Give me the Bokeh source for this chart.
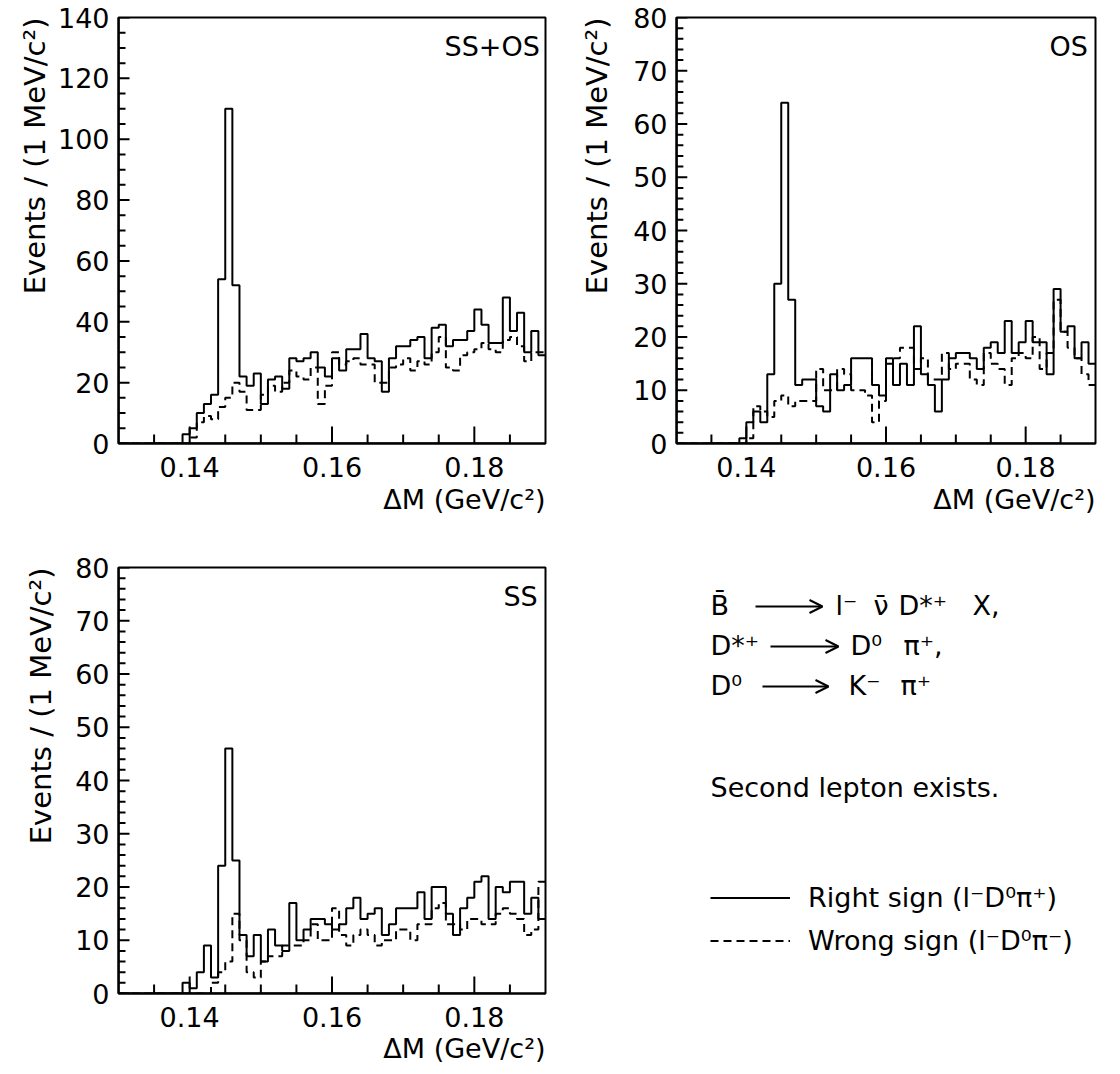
from bokeh.plotting import figure
from bokeh.models import (FixedTicker, Range1d, Title, Label, Legend, LegendItem,
                          PrintfTickFormatter, Arrow, OpenHead)
from bokeh.layouts import column, row
from bokeh.embed import file_html
from bokeh.resources import INLINE

FONT = "DejaVu Sans"
FS = "27px"

# bin edges of the Delta M histograms (GeV/c^2), 1 MeV bins
edges = [round(0.130 + 0.001 * i, 3) for i in range(61)]

# SS+OS
ssos_right = [0, 0, 0, 0, 0, 0, 0, 0, 0,
              3, 5, 10, 13, 16, 54, 110, 52, 22, 19, 23,
              13, 21, 22, 18, 28, 27, 28, 30, 25, 22,
              28, 24, 31, 31, 36, 28, 27, 17, 28, 32,
              32, 34, 35, 28, 38, 39, 32, 34, 34, 37,
              44, 39, 33, 33, 48, 37, 43, 30, 37, 29]
ssos_wrong = [0, 0, 0, 0, 0, 0, 0, 0, 0, 0,
              2, 7, 9, 8, 12, 15, 20, 17, 11, 11,
              16, 19, 17, 20, 24, 22, 21, 25, 13, 19,
              30, 26, 27, 28, 26, 26, 20, 20, 25, 26,
              28, 24, 27, 26, 30, 35, 25, 24, 29, 30,
              31, 33, 31, 30, 34, 35, 32, 27, 30, 30]
# OS
os_right = [0, 0, 0, 0, 0, 0, 0, 0, 0,
            1, 4, 6, 4, 13, 30, 64, 27, 11, 12, 12,
            7, 6, 13, 10, 11, 16, 16, 16, 11, 9,
            16, 11, 15, 11, 22, 13, 11, 6, 12, 16,
            17, 17, 16, 14, 18, 19, 17, 23, 17, 19,
            23, 19, 19, 13, 29, 21, 22, 16, 19, 15]
os_wrong = [0, 0, 0, 0, 0, 0, 0, 0, 0, 0,
            1, 7, 6, 5, 8, 9, 7, 8, 8, 8,
            14, 10, 10, 14, 13, 10, 10, 9, 4, 8,
            15, 16, 18, 18, 14, 16, 12, 12, 17, 14,
            15, 15, 12, 11, 17, 15, 14, 11, 16, 17,
            16, 20, 14, 17, 27, 21, 18, 16, 13, 11]
# SS
ss_right = [0, 0, 0, 0, 0, 0, 0, 0, 0,
            2, 1, 4, 9, 3, 24, 46, 25, 11, 7, 11,
            6, 12, 9, 8, 17, 10, 12, 14, 14, 13,
            12, 13, 16, 18, 14, 15, 16, 11, 13, 16,
            16, 16, 19, 14, 20, 20, 15, 11, 16, 18,
            21, 22, 14, 20, 19, 21, 21, 15, 18, 14]
ss_wrong = [0, 0, 0, 0, 0, 0, 0, 0, 0, 0, 0, 0, 0,
            2, 4, 6, 15, 10, 4, 3,
            6, 7, 7, 9, 9, 9, 10, 13, 10, 10,
            16, 11, 9, 11, 12, 11, 9, 10, 10, 12,
            12, 10, 13, 13, 16, 17, 13, 13, 12, 14,
            14, 13, 13, 15, 16, 15, 14, 11, 12, 21]

x_major = [0.14, 0.16, 0.18]
x_minor = [round(0.135 + 0.005 * i, 3) for i in range(11)]
y_label = "Events / (1 MeV/c²)"
x_label = "ΔM (GeV/c²)"

X0, X1 = 0.13, 0.19
FRAME_W, FRAME_H = 427, 426
NAN = float("nan")


def comb(ticks, majors, along_x, base, long_len, short_len):
    """A single connected path running along a frame edge with a spike at every tick."""
    xs, ys = [], []
    for t in sorted(set(ticks) | set(majors)):
        ln = long_len if t in majors else short_len
        if along_x:
            xs += [t, t, t]
            ys += [base, base + ln, base]
        else:
            xs += [base, base + ln, base]
            ys += [t, t, t]
    return xs, ys


def panel(right, wrong, ymax, ymajor, yminor, tag, height, bottom, left, rborder,
          ylab_standoff, xlab_standoff):
    p = figure(width=560, height=height, x_range=Range1d(X0, X1), y_range=Range1d(0, ymax),
               output_backend="svg", toolbar_location=None,
               min_border_left=left, min_border_right=rborder,
               min_border_top=17, min_border_bottom=bottom)
    p.grid.visible = False
    p.outline_line_color = "black"
    p.outline_line_width = 2
    p.outline_line_alpha = 1
    p.background_fill_color = None
    p.border_fill_color = "white"

    y_major = list(range(0, ymax + 1, ymajor))
    y_minor = list(range(0, ymax + 1, yminor))

    p.step(x=edges, y=wrong + [wrong[-1]], mode="after", line_color="black",
           line_width=2, line_dash="8 5")
    p.step(x=edges, y=right + [right[-1]], mode="after", line_color="black", line_width=2)

    # inward tick marks on the bottom and left frame edges
    px_x = (X1 - X0) / FRAME_W
    px_y = ymax / FRAME_H
    xs, ys = comb(x_minor, x_major, True, 0, 17 * px_y, 9 * px_y)
    p.line(x=xs, y=ys, line_color="black", line_width=2)
    xs, ys = comb(y_minor, y_major, False, X0, 11 * px_x, 7 * px_x)
    p.line(x=xs, y=ys, line_color="black", line_width=2)

    # labelled axes
    xa = p.xaxis[0]
    xa.ticker = FixedTicker(ticks=x_major, minor_ticks=x_minor)
    xa.formatter = PrintfTickFormatter(format="%.2f")
    ya = p.yaxis[0]
    ya.ticker = FixedTicker(ticks=y_major, minor_ticks=y_minor)
    for ax in (xa, ya):
        ax.axis_line_width = 2
        ax.major_tick_out = 0
        ax.major_tick_in = 0
        ax.minor_tick_out = 0
        ax.minor_tick_in = 0
        ax.major_label_text_font = FONT
        ax.major_label_text_font_size = FS
        ax.major_label_text_color = "black"
    xa.major_label_standoff = 13
    ya.major_label_standoff = 9

    p.add_layout(Title(text=y_label, align="right", text_font=FONT, text_font_size="29px",
                       text_font_style="normal", text_color="black",
                       standoff=ylab_standoff), "left")
    p.add_layout(Title(text=x_label, align="right", text_font=FONT, text_font_size=FS,
                       text_font_style="normal", text_color="black",
                       standoff=xlab_standoff), "below")

    xr = 0.1892 if tag == "SS+OS" else 0.1889
    p.add_layout(Label(x=xr, y=ymax - 29 * px_y, text=tag, text_align="right",
                       text_baseline="middle", text_font=FONT, text_font_size=FS,
                       text_color="black"))
    return p


p1 = panel(ssos_right, ssos_wrong, 140, 20, 5, "SS+OS", 550, 107, 118, 15, 6, 5)
p2 = panel(os_right, os_wrong, 80, 10, 2, "OS", 550, 107, 108, 25, 34, 5)
p3 = panel(ss_right, ss_wrong, 80, 10, 2, "SS", 524, 81, 118, 15, 30, 2)

# text / legend panel; its frame is aligned with the SS panel frame (page y 567..993)
p4 = figure(width=560, height=524, x_range=Range1d(560, 1120), y_range=Range1d(993, 567),
            output_backend="svg", toolbar_location=None, min_border=0,
            x_axis_location=None, y_axis_location=None)
p4.grid.visible = False
p4.outline_line_color = None
p4.background_fill_color = None


def txt(x, y, s, size=FS):
    p4.add_layout(Label(x=x, y=y, text=s, text_baseline="middle", text_color="black",
                        text_font=FONT, text_font_size=size))


def arrow(x0, x1, y):
    p4.add_layout(Arrow(end=OpenHead(size=13, line_width=2, line_color="black"),
                        x_start=x0, y_start=y, x_end=x1, y_end=y,
                        line_width=2, line_color="black"))


txt(710, 605, "B\u0304")
arrow(755, 822, 606)
txt(835, 605, "l\u207b")
txt(873, 605, "\u03bd\u0304")
txt(898, 605, "D*\u207a")
txt(972, 605, "X,")
txt(710, 645, "D*\u207a")
arrow(770, 838, 646)
txt(850, 645, "D\u2070")
txt(903, 645, "\u03c0\u207a,")
txt(710, 685, "D\u2070")
arrow(762, 828, 686)
txt(848, 685, "K\u207b")
txt(900, 685, "\u03c0\u207a")
txt(710, 787, "Second lepton exists.")

r1 = p4.line(x=[NAN, NAN], y=[NAN, NAN], line_color="black", line_width=2)
r2 = p4.line(x=[NAN, NAN], y=[NAN, NAN], line_color="black", line_width=2, line_dash="8 5")
leg = Legend(items=[LegendItem(label="Right sign (l\u207bD\u2070\u03c0\u207a)", renderers=[r1]),
                    LegendItem(label="Wrong sign (l\u207bD\u2070\u03c0\u207b)", renderers=[r2])],
             location=(150, 31), glyph_width=80, glyph_height=43, label_height=43,
             spacing=0, padding=0, margin=0, border_line_color=None,
             background_fill_alpha=0, label_text_font=FONT, label_text_font_size=FS,
             label_text_color="black", label_standoff=18)
p4.add_layout(leg, "center")

layout = column(row(p1, p2), row(p3, p4))
open("out.html", "w").write(file_html(layout, INLINE))
